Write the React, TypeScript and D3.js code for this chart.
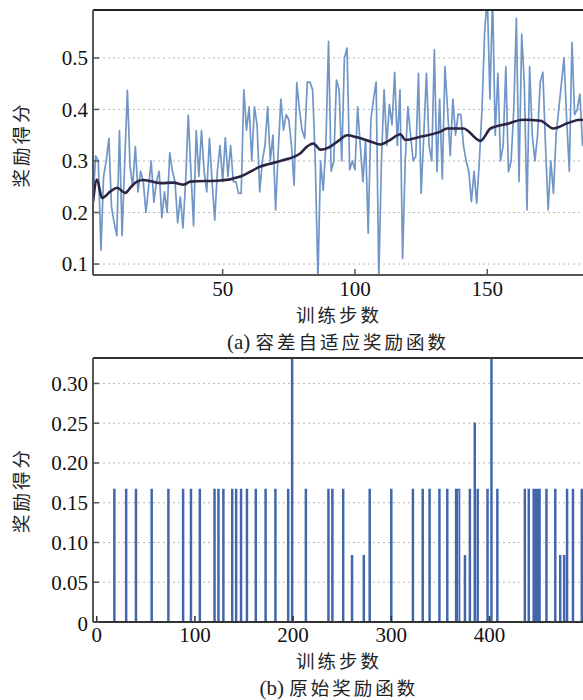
import React from 'react';
import * as d3 from 'd3';

// (a) tolerance-adaptive reward, per training step (starting at step 1)
const rewardA = [
  0.22, 0.31, 0.30, 0.127, 0.27, 0.30, 0.344, 0.21, 0.18, 0.155,
  0.359, 0.155, 0.30, 0.437, 0.29, 0.25, 0.328, 0.24, 0.28, 0.26,
  0.20, 0.25, 0.30, 0.22, 0.26, 0.28, 0.19, 0.24, 0.20, 0.316,
  0.28, 0.26, 0.18, 0.23, 0.17, 0.26, 0.389, 0.28, 0.174, 0.359,
  0.27, 0.359, 0.28, 0.24, 0.344, 0.26, 0.185, 0.28, 0.33, 0.26,
  0.345, 0.27, 0.33, 0.26, 0.26, 0.237, 0.237, 0.438, 0.36, 0.405,
  0.30, 0.405, 0.37, 0.24, 0.30, 0.33, 0.405, 0.30, 0.35, 0.205,
  0.32, 0.42, 0.36, 0.39, 0.38, 0.33, 0.253, 0.452, 0.40, 0.36,
  0.344, 0.453, 0.453, 0.438, 0.30, 0.07, 0.30, 0.243, 0.33, 0.532,
  0.28, 0.30, 0.457, 0.438, 0.30, 0.50, 0.519, 0.283, 0.30, 0.283,
  0.405, 0.33, 0.26, 0.34, 0.16, 0.38, 0.42, 0.453, 0.07, 0.30,
  0.438, 0.33, 0.41, 0.37, 0.472, 0.33, 0.438, 0.111, 0.30, 0.405,
  0.35, 0.30, 0.31, 0.47, 0.237, 0.35, 0.47, 0.33, 0.30, 0.516,
  0.279, 0.42, 0.265, 0.483, 0.40, 0.31, 0.42, 0.35, 0.391, 0.39,
  0.33, 0.30, 0.28, 0.221, 0.28, 0.218, 0.30, 0.40, 0.55, 0.62,
  0.42, 0.62, 0.35, 0.47, 0.30, 0.33, 0.483, 0.279, 0.30, 0.40,
  0.577, 0.26, 0.546, 0.45, 0.205, 0.483, 0.35, 0.30, 0.35, 0.453,
  0.472, 0.33, 0.205, 0.30, 0.237, 0.35, 0.40, 0.45, 0.50, 0.38,
  0.28, 0.53, 0.39, 0.40, 0.43, 0.33, 0.33, 0.32, 0.33, 0.34,
];

// (a) smoothed reward (dark curve), read at these steps
const smoothSteps = [
  1, 2.5, 4.4, 7.6, 10.1, 13.2, 15.1, 17.6, 20.1, 26.5, 31.4, 35.3, 37.8, 49.1,
  56.7, 64.2, 71.8, 79.4, 81.9, 84.3, 86.9, 90.7, 94, 97, 100.8, 105.8, 109.6,
  113, 117.2, 119, 124.7, 132.3, 134.8, 141, 147.4, 151.2, 157.5, 163.6, 170.1,
  175, 180.2, 185.2, 190, 200,
];
const smoothValues = [
  0.22, 0.264, 0.228, 0.241, 0.248, 0.238, 0.248, 0.26, 0.263, 0.257, 0.258,
  0.254, 0.26, 0.262, 0.27, 0.289, 0.30, 0.315, 0.328, 0.334, 0.322, 0.328,
  0.34, 0.35, 0.346, 0.338, 0.332, 0.34, 0.352, 0.341, 0.347, 0.357, 0.363,
  0.363, 0.339, 0.363, 0.372, 0.38, 0.378, 0.363, 0.373, 0.38, 0.375, 0.37,
];

const xTicksA = [50, 100, 150];
const yTicksA = [0.1, 0.2, 0.3, 0.4, 0.5];
const yTickLabelsA = ['0.1', '0.2', '0.3', '0.4', '0.5'];

// (b) original reward: steps with a non-zero reward and their values
const spikeSteps = [
  18, 30, 40, 56, 73, 88, 96, 105, 120, 124, 129, 138, 142, 147, 153, 162, 172,
  182, 195, 199, 213, 236, 240, 251, 260, 272, 278, 300, 322, 332, 339, 349, 357,
  366, 368, 369, 375, 380, 385, 388, 398, 402, 408, 436, 440, 445, 447, 449, 451,
  458, 467, 472, 476, 479, 485, 494,
];
const spikeValues = [
  1 / 6, 1 / 6, 1 / 6, 1 / 6, 1 / 6, 1 / 6, 1 / 6, 1 / 6, 1 / 6, 1 / 6, 1 / 6,
  1 / 6, 1 / 6, 1 / 6, 1 / 6, 1 / 6, 1 / 6, 1 / 6, 1 / 6, 1 / 3, 1 / 6, 1 / 6,
  1 / 6, 1 / 6, 1 / 12, 1 / 12, 1 / 6, 1 / 6, 1 / 6, 1 / 6, 1 / 6, 1 / 6, 1 / 6,
  1 / 6, 1 / 6, 1 / 6, 1 / 12, 1 / 6, 1 / 4, 1 / 6, 1 / 6, 1 / 3, 1 / 6, 1 / 6,
  1 / 6, 1 / 6, 1 / 6, 1 / 6, 1 / 6, 1 / 6, 1 / 6, 1 / 12, 1 / 12, 1 / 6, 1 / 6,
  1 / 6,
];
const totalStepsB = 520;

const xTicksB = [0, 100, 200, 300, 400];
const yTicksB = [0, 0.05, 0.1, 0.15, 0.2, 0.25, 0.3];
const yTickLabelsB = ['0', '0.05', '0.10', '0.15', '0.20', '0.25', '0.30'];

const SERIF = '"Liberation Serif", "Times New Roman", serif';
const CJK = '"Noto Sans CJK SC", sans-serif';
const CJK_SIZE = 18.5;
const CJK_SPACING = 3;

export default function App() {
  const W = 583;
  const H = 700;

  // ---- chart (a)
  const aL = 93, aT = 10, aB = 275;
  const xA = d3.scaleLinear().domain([1, 200]).range([93, 619.6]);
  const yA = d3.scaleLinear().domain([0.0787, 0.593]).range([aB, aT]);
  const lineA = d3
    .line<number>()
    .x((_, i) => xA(i + 1))
    .y((d) => yA(d));
  const smoothPts = smoothSteps.map((s, i) => [s, smoothValues[i]] as [number, number]);
  const lineSmooth = d3
    .line<[number, number]>()
    .x((d) => xA(d[0]))
    .y((d) => yA(d[1]))
    .curve(d3.curveMonotoneX);

  // ---- chart (b)
  const bL = 93, bT = 358, bB = 622;
  const xB = d3.scaleLinear().domain([0, 500]).range([96.7, 587.7]);
  const yB = d3.scaleLinear().domain([0, 0.332]).range([bB, bT]);
  const seriesB: number[] = d3.range(totalStepsB).map(() => 0);
  spikeSteps.forEach((s, i) => {
    seriesB[s] = spikeValues[i];
  });
  const lineB = d3
    .line<number>()
    .x((_, i) => xB(i))
    .y((d) => yB(d))
    .curve(d3.curveStep);

  const axisColor = '#555';
  const gridColor = '#b8b8b8';

  return (
    <svg
      width={W}
      height={H}
      viewBox={`0 0 ${W} ${H}`}
      style={{ position: 'absolute', left: 0, top: 0, background: '#fff' }}
    >
      <defs>
        <clipPath id="clipA">
          <rect x={aL} y={aT} width={W - aL} height={aB - aT} />
        </clipPath>
        <clipPath id="clipB">
          <rect x={bL} y={bT} width={W - bL} height={bB - bT} />
        </clipPath>
      </defs>
      <rect x={0} y={0} width={W} height={H} fill="#fff" />

      {/* ---------- chart (a) ---------- */}
      {yTicksA.map((t) => (
        <line
          key={'ga' + t}
          x1={aL}
          x2={W}
          y1={yA(t)}
          y2={yA(t)}
          stroke={gridColor}
          strokeWidth={1}
          strokeDasharray="2,3"
        />
      ))}
      <g clipPath="url(#clipA)">
        <path d={lineA(rewardA) || ''} fill="none" stroke="#7096c8" strokeWidth={1.7} strokeLinejoin="round" />
        <path d={lineSmooth(smoothPts) || ''} fill="none" stroke="#2b2442" strokeWidth={2.6} strokeLinejoin="round" />
      </g>
      {/* frame */}
      <line x1={aL} x2={W} y1={aT} y2={aT} stroke="#222" strokeWidth={2} />
      <line x1={aL} x2={aL} y1={aT} y2={aB} stroke={axisColor} strokeWidth={2} />
      <line x1={aL} x2={W} y1={aB} y2={aB} stroke={axisColor} strokeWidth={2} />
      {yTicksA.map((t, i) => (
        <g key={'ta' + t}>
          <line x1={aL} x2={aL + 6} y1={yA(t)} y2={yA(t)} stroke={axisColor} strokeWidth={1.5} />
          <text x={88} y={yA(t)} dy="0.35em" textAnchor="end" fontFamily={SERIF} fontSize={21} fill="#111">
            {yTickLabelsA[i]}
          </text>
        </g>
      ))}
      {xTicksA.map((t) => (
        <g key={'txa' + t}>
          <line x1={xA(t)} x2={xA(t)} y1={aB} y2={aB - 6} stroke={axisColor} strokeWidth={1.5} />
          <text x={xA(t)} y={296} textAnchor="middle" fontFamily={SERIF} fontSize={21} fill="#111">
            {t}
          </text>
        </g>
      ))}
      <text x={339} y={322} textAnchor="middle" fontFamily={CJK} fontSize={CJK_SIZE} letterSpacing={CJK_SPACING} fill="#222">
        训练步数
      </text>
      <text x={338} y={349} textAnchor="middle" fill="#222">
        <tspan fontFamily={SERIF} fontSize={21}>(a) </tspan>
        <tspan fontFamily={CJK} fontSize={CJK_SIZE} letterSpacing={CJK_SPACING}>容差自适应奖励函数</tspan>
      </text>
      <text
        transform={`translate(28, ${(aT + aB) / 2 + 2}) rotate(-90)`}
        textAnchor="middle"
        fontFamily={CJK}
        fontSize={CJK_SIZE}
        letterSpacing={CJK_SPACING}
        fill="#222"
      >
        奖励得分
      </text>

      {/* ---------- chart (b) ---------- */}
      {yTicksB.slice(1).map((t) => (
        <line
          key={'gb' + t}
          x1={bL}
          x2={W}
          y1={yB(t)}
          y2={yB(t)}
          stroke={gridColor}
          strokeWidth={1}
          strokeDasharray="2,3"
        />
      ))}
      <g clipPath="url(#clipB)">
        <path d={lineB(seriesB) || ''} fill="none" stroke="#4266ab" strokeWidth={1.5} strokeLinejoin="miter" />
      </g>
      <line x1={bL} x2={W} y1={bT} y2={bT} stroke="#333" strokeWidth={2} />
      <line x1={bL} x2={bL} y1={bT} y2={bB} stroke={axisColor} strokeWidth={2} />
      <line x1={bL} x2={W} y1={bB} y2={bB} stroke="#333" strokeWidth={2} />
      {yTicksB.map((t, i) => (
        <g key={'tb' + t}>
          <line x1={bL} x2={bL + 6} y1={yB(t)} y2={yB(t)} stroke={axisColor} strokeWidth={1.5} />
          <text
            x={88}
            y={yB(t)}
            dy={i === 0 ? '0.45em' : '0.35em'}
            textAnchor="end"
            fontFamily={SERIF}
            fontSize={21}
            fill="#111"
          >
            {yTickLabelsB[i]}
          </text>
        </g>
      ))}
      {xTicksB.map((t) => (
        <g key={'txb' + t}>
          <line x1={xB(t)} x2={xB(t)} y1={bB} y2={bB - 6} stroke="#333" strokeWidth={1.5} />
          <text x={xB(t)} y={642} textAnchor="middle" fontFamily={SERIF} fontSize={21} fill="#111">
            {t}
          </text>
        </g>
      ))}
      <text x={339} y={668} textAnchor="middle" fontFamily={CJK} fontSize={CJK_SIZE} letterSpacing={CJK_SPACING} fill="#222">
        训练步数
      </text>
      <text x={339} y={694.5} textAnchor="middle" fill="#222">
        <tspan fontFamily={SERIF} fontSize={21}>(b) </tspan>
        <tspan fontFamily={CJK} fontSize={CJK_SIZE} letterSpacing={CJK_SPACING}>原始奖励函数</tspan>
      </text>
      <text
        transform={`translate(28, ${(bT + bB) / 2}) rotate(-90)`}
        textAnchor="middle"
        fontFamily={CJK}
        fontSize={CJK_SIZE}
        letterSpacing={CJK_SPACING}
        fill="#222"
      >
        奖励得分
      </text>
    </svg>
  );
}
